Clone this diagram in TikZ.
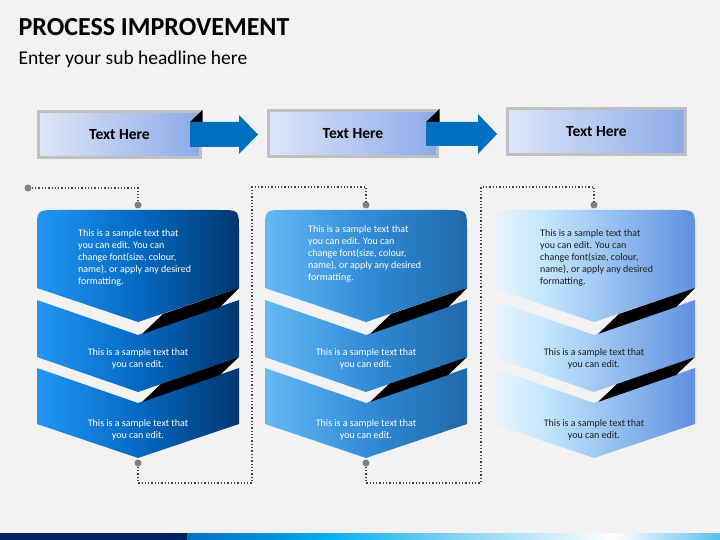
\documentclass[tikz,border=0pt]{standalone}
\usepackage{fontspec}
\setmainfont{Carlito}

\definecolor{bggray}{RGB}{242,242,242}
\definecolor{boxgray}{RGB}{192,192,192}
\definecolor{hboxL}{RGB}{222,230,247}
\definecolor{hboxR}{RGB}{140,170,232}
\definecolor{arrowblue}{RGB}{0,112,192}
\definecolor{dotgray}{RGB}{128,128,128}
\definecolor{linegray}{RGB}{70,70,70}
\definecolor{txtdark}{RGB}{30,30,30}
\definecolor{navy}{RGB}{0,32,96}
\definecolor{oneL}{RGB}{33,150,243}
\definecolor{oneM}{RGB}{5,105,195}
\definecolor{oneR}{RGB}{0,55,110}
\definecolor{twoL}{RGB}{100,185,245}
\definecolor{twoM}{RGB}{50,140,215}
\definecolor{twoR}{RGB}{30,105,170}
\definecolor{threeL}{RGB}{235,243,252}
\definecolor{threeM}{RGB}{195,230,252}
\definecolor{threeR}{RGB}{95,145,225}

\pgfdeclarehorizontalshading{col1}{100bp}{color(0bp)=(oneL); color(25bp)=(oneL); color(50bp)=(oneM); color(75bp)=(oneR); color(100bp)=(oneR)}
\pgfdeclarehorizontalshading{col2}{100bp}{color(0bp)=(twoL); color(25bp)=(twoL); color(50bp)=(twoM); color(75bp)=(twoR); color(100bp)=(twoR)}
\pgfdeclarehorizontalshading{col3}{100bp}{color(0bp)=(threeL); color(25bp)=(threeL); color(38bp)=(threeM); color(75bp)=(threeR); color(100bp)=(threeR)}
\pgfdeclarehorizontalshading{barshade}{100bp}{color(0bp)=(arrowblue); color(25bp)=(arrowblue); color(33bp)=(rgb,255:red,0;green,145;blue,220); color(38bp)=(rgb,255:red,0;green,176;blue,240); color(50bp)=(rgb,255:red,130;green,210;blue,240); color(65bp)=(white); color(75bp)=(rgb,255:red,90;green,190;blue,235); color(100bp)=(rgb,255:red,90;green,190;blue,235)}

\begin{document}
\begin{tikzpicture}[x=1pt,y=-1pt,
    hbox/.style={draw=boxgray,line width=3pt,left color=hboxL,right color=hboxR,minimum height=46pt,font=\bfseries\fontsize{15.5}{18}\selectfont},
    dot/.style={circle,fill=dotgray,inner sep=0pt,minimum size=7pt},
    link/.style={draw=linegray,line width=1.3pt,dotted},
    body/.style={inner sep=0pt,font=\fontsize{10}{12}\selectfont}]

  \fill[bggray] (0,0) rectangle (720,540);

  \node[anchor=base west,font=\bfseries\fontsize{26}{30}\selectfont] (title) at (15,36) {PROCESS IMPROVEMENT};
  \node[anchor=base west,font=\fontsize{19.5}{23}\selectfont] (sub) at (15,65) {Enter your sub headline here};

  \node[hbox,minimum width=162pt] (h1) at (119.5,135) {Text Here};
  \node[hbox,minimum width=169pt] (h2) at (353,134) {Text Here};
  \node[hbox,minimum width=178pt] (h3) at (596.5,131.5) {Text Here};

  \fill (190,122) -- (202.5,110) -- (202.5,122) -- cycle;
  \fill[arrowblue] (190,122) -- (239,122) -- (239,115) -- (258,134.5) -- (239,154) -- (239,147) -- (190,147) -- cycle;
  \fill (426,122) -- (439.5,109) -- (439.5,122) -- cycle;
  \fill[arrowblue] (426,122) -- (478,122) -- (478,114) -- (497,134) -- (478,154) -- (478,146) -- (426,146) -- cycle;

  \foreach \i/\x/\tx/\ty/\tc in {1/0/78/257.5/white,2/228/80/253.5/white,3/456/84/257.5/txtdark}{
    \begin{scope}[shift={(\x,0)}]
      \shade[shading=col\i] (37,288) -- (37,230) .. controls (37,210) .. (57,210) -- (219,210) .. controls (239,210) .. (239,230) -- (239,288) -- (138,322) -- cycle;
      \shade[shading=col\i] (37,300) -- (138,335) -- (239,300) -- (239,357) -- (138,392) -- (37,357) -- cycle;
      \shade[shading=col\i] (37,368) -- (138,403) -- (239,368) -- (239,424) -- (138,458) -- (37,424) -- cycle;
      \fill (142,334) -- (163,314) -- (239,288) -- (220,307) -- cycle;
      \fill (142,402) -- (161,384) -- (239,357) -- (220,375) -- cycle;

      \node[body,text=\tc,align=left,anchor=west] (top\i) at (\tx,\ty) {This is a sample text that\\you can edit. You can\\change font(size, colour,\\name), or apply any desired\\formatting.};
      \node[body,text=\tc,align=center] (mid\i) at (138,358.5) {This is a sample text that\\you can edit.};
      \node[body,text=\tc,align=center] (bot\i) at (138,429.5) {This is a sample text that\\you can edit.};
    \end{scope}
  }

  \node[dot] (d0) at (28,188) {};
  \node[dot] (a1) at (138,205) {};
  \node[dot] (b1) at (138,463) {};
  \node[dot] (a2) at (366,205) {};
  \node[dot] (b2) at (366,463) {};
  \node[dot] (a3) at (594,205) {};
  \coordinate (c1) at (252,483);
  \coordinate (e1) at (252,187);
  \coordinate (c2) at (481,483);
  \coordinate (e2) at (481,187);

  \draw[link] (d0) -| (a1);
  \draw[link] (b1) |- (c1) -- (e1) -| (a2);
  \draw[link] (b2) |- (c2) -- (e2) -| (a3);

  \fill[navy] (0,533) rectangle (187,540);
  \shade[shading=barshade] (187,533) rectangle (720,540);

\end{tikzpicture}
\end{document}
